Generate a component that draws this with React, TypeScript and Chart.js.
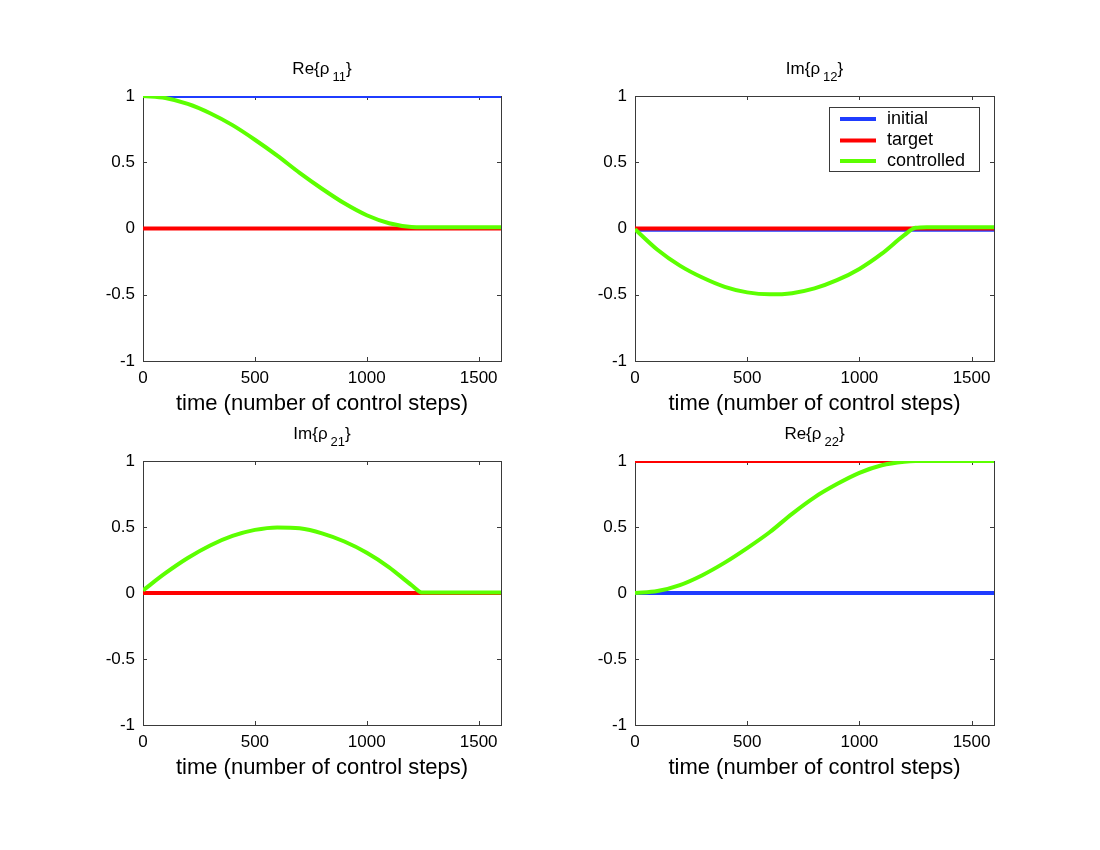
import React, { useEffect, useRef } from 'react';
import { Chart, registerables } from 'chart.js';

Chart.register(...registerables);

// ---------- data ----------
const steps = [0, 100, 200, 300, 400, 500, 600, 700, 800, 900, 1000, 1100, 1200, 1250, 1300, 1400, 1500, 1600];
const lineSteps = [0, 1600];

const re11Initial = [1, 1];
const re11Target = [0, 0];
const re11Controlled = [1.0, 0.985, 0.94, 0.87, 0.78, 0.67, 0.55, 0.42, 0.3, 0.19, 0.1, 0.04, 0.012, 0.01, 0.01, 0.01, 0.01, 0.01];

const im12Initial = [-0.01, -0.01];
const im12Target = [0, 0];
const im12Controlled = [-0.005, -0.16, -0.28, -0.37, -0.44, -0.482, -0.497, -0.488, -0.452, -0.39, -0.305, -0.19, -0.05, 0.005, 0.01, 0.01, 0.01, 0.01];

const im21Initial = [0, 0];
const im21Target = [0, 0];
const im21Controlled = [0.02, 0.15, 0.265, 0.36, 0.432, 0.478, 0.497, 0.49, 0.452, 0.39, 0.305, 0.195, 0.06, 0.003, 0.004, 0.004, 0.004, 0.004];

const re22Initial = [0, 0];
const re22Target = [1, 1];
const re22Controlled = [0.0, 0.015, 0.06, 0.135, 0.23, 0.34, 0.46, 0.6, 0.725, 0.825, 0.91, 0.968, 0.995, 1.0, 1.0, 1.0, 1.0, 1.0];

const xTickValues = [0, 500, 1000, 1500];
const xTickLabels = ['0', '500', '1000', '1500'];
const yTickValues = [-1, -0.5, 0, 0.5, 1];
const yTickLabels = ['-1', '-0.5', '0', '0.5', '1'];
const seriesNames = ['initial', 'target', 'controlled'];
const xAxisLabel = 'time (number of control steps)';

// ---------- styles ----------
const FONT = '"Liberation Sans", Arial, Helvetica, sans-serif';
const COLORS = ['#1f3cff', '#ff0000', '#5cff00'];
const AXIS_COLOR = '#3a3a3a';

type Panel = {
  left: number;
  top: number;
  titleMain: string;
  titleSub: string;
  initial: number[];
  target: number[];
  controlled: number[];
  legend: boolean;
  padding: { left: number; right: number; top: number; bottom: number };
};

const panels: Panel[] = [
  { left: 0, top: 0, titleMain: 'Re{ρ', titleSub: '11', initial: re11Initial, target: re11Target, controlled: re11Controlled, legend: false, padding: { left: 83, right: 49, top: 96, bottom: 4 } },
  { left: 550, top: 0, titleMain: 'Im{ρ', titleSub: '12', initial: im12Initial, target: im12Target, controlled: im12Controlled, legend: true, padding: { left: 25, right: 106, top: 96, bottom: 4 } },
  { left: 0, top: 425, titleMain: 'Im{ρ', titleSub: '21', initial: im21Initial, target: im21Target, controlled: im21Controlled, legend: false, padding: { left: 83, right: 49, top: 36, bottom: 65 } },
  { left: 550, top: 425, titleMain: 'Re{ρ', titleSub: '22', initial: re22Initial, target: re22Target, controlled: re22Controlled, legend: false, padding: { left: 25, right: 106, top: 36, bottom: 65 } },
];

const framePlugin = {
  id: 'frame',
  beforeDatasetsDraw(chart: any) {
    const { ctx, chartArea: a, scales } = chart;
    const x = scales.x;
    const y = scales.y;
    ctx.save();
    ctx.strokeStyle = AXIS_COLOR;
    ctx.lineWidth = 1;
    ctx.strokeRect(a.left + 0.5, a.top + 0.5, a.right - a.left, a.bottom - a.top);
    const tl = 4;
    ctx.beginPath();
    for (const v of xTickValues) {
      const px = Math.round(x.getPixelForValue(v)) + 0.5;
      ctx.moveTo(px, a.bottom);
      ctx.lineTo(px, a.bottom - tl);
      ctx.moveTo(px, a.top);
      ctx.lineTo(px, a.top + tl);
    }
    for (const v of yTickValues) {
      const py = Math.round(y.getPixelForValue(v)) + 0.5;
      ctx.moveTo(a.left, py);
      ctx.lineTo(a.left + tl, py);
      ctx.moveTo(a.right, py);
      ctx.lineTo(a.right - tl, py);
    }
    ctx.stroke();
    ctx.restore();
  },
};

const titlePlugin = {
  id: 'subTitle',
  afterDraw(chart: any, _args: any, opts: any) {
    const { ctx, chartArea: a } = chart;
    const main: string = opts.main;
    const sub: string = opts.sub;
    const close = '}';
    ctx.save();
    ctx.fillStyle = '#000';
    ctx.textBaseline = 'alphabetic';
    ctx.textAlign = 'left';
    const mainFont = `17px ${FONT}`;
    const subFont = `13px ${FONT}`;
    ctx.font = mainFont;
    const wMain = ctx.measureText(main).width;
    const wClose = ctx.measureText(close).width;
    ctx.font = subFont;
    const wSub = ctx.measureText(sub).width;
    const gap = 3;
    const total = wMain + gap + wSub + wClose;
    const cx = (a.left + a.right) / 2;
    const base = a.top - 22;
    let x0 = cx - total / 2;
    ctx.font = mainFont;
    ctx.fillText(main, x0, base);
    x0 += wMain + gap;
    ctx.font = subFont;
    ctx.fillText(sub, x0, base + 7);
    x0 += wSub;
    ctx.font = mainFont;
    ctx.fillText(close, x0, base);
    ctx.restore();
  },
};

const legendPlugin = {
  id: 'boxLegend',
  afterDraw(chart: any, _args: any, opts: any) {
    if (!opts.show) return;
    const { ctx, chartArea: a } = chart;
    const bx = a.right - 165;
    const by = a.top + 11;
    const bw = 150;
    const bh = 64;
    ctx.save();
    ctx.fillStyle = '#fff';
    ctx.fillRect(bx, by, bw, bh);
    ctx.strokeStyle = AXIS_COLOR;
    ctx.lineWidth = 1;
    ctx.strokeRect(bx + 0.5, by + 0.5, bw, bh);
    const rows = [12, 33.5, 54];
    ctx.font = `18px ${FONT}`;
    ctx.textBaseline = 'middle';
    ctx.textAlign = 'left';
    seriesNames.forEach((name, i) => {
      const ry = by + rows[i];
      ctx.strokeStyle = COLORS[i];
      ctx.lineWidth = 4;
      ctx.beginPath();
      ctx.moveTo(bx + 11, ry);
      ctx.lineTo(bx + 47, ry);
      ctx.stroke();
      ctx.fillStyle = '#000';
      ctx.fillText(name, bx + 58, ry);
    });
    ctx.restore();
  },
};

function toXY(xs: number[], ys: number[]) {
  return xs.map((x, i) => ({ x, y: ys[i] }));
}

function SubPlot({ panel }: { panel: Panel }) {
  const ref = useRef<HTMLCanvasElement | null>(null);
  useEffect(() => {
    if (!ref.current) return;
    const chart = new Chart(ref.current, {
      type: 'line',
      data: {
        datasets: [
          {
            label: seriesNames[0],
            data: toXY(lineSteps, panel.initial),
            borderColor: COLORS[0],
            borderWidth: 4,
            pointRadius: 0,
            order: 3,
            clip: 0,
          },
          {
            label: seriesNames[1],
            data: toXY(lineSteps, panel.target),
            borderColor: COLORS[1],
            borderWidth: 4,
            pointRadius: 0,
            order: 2,
            clip: 0,
          },
          {
            label: seriesNames[2],
            data: toXY(steps, panel.controlled),
            borderColor: COLORS[2],
            borderWidth: 4,
            pointRadius: 0,
            cubicInterpolationMode: 'monotone',
            order: 1,
            clip: 0,
          },
        ] as any,
      },
      options: {
        animation: false,
        responsive: false,
        devicePixelRatio: 1,
        layout: { padding: panel.padding },
        plugins: {
          legend: { display: false },
          tooltip: { enabled: false },
          subTitle: { main: panel.titleMain, sub: panel.titleSub },
          boxLegend: { show: panel.legend },
        } as any,
        scales: {
          x: {
            type: 'linear',
            min: 0,
            max: 1600,
            grid: { display: false, drawTicks: false },
            border: { display: false },
            afterBuildTicks: (s: any) => {
              s.ticks = xTickValues.map((v) => ({ value: v }));
            },
            afterFit: (s: any) => {
              s.height = 60;
            },
            ticks: {
              autoSkip: false,
              maxRotation: 0,
              padding: 7,
              color: '#000',
              font: { family: FONT, size: 17 },
              callback: (v: any) => xTickLabels[xTickValues.indexOf(Number(v))] ?? '',
            },
            title: {
              display: true,
              text: xAxisLabel,
              color: '#000',
              font: { family: FONT, size: 22 },
              padding: { top: 0, bottom: 4 },
            },
          },
          y: {
            type: 'linear',
            min: -1,
            max: 1,
            grid: { display: false, drawTicks: false },
            border: { display: false },
            afterBuildTicks: (s: any) => {
              s.ticks = yTickValues.map((v) => ({ value: v }));
            },
            afterFit: (s: any) => {
              s.width = 60;
            },
            ticks: {
              autoSkip: false,
              padding: 8,
              color: '#000',
              font: { family: FONT, size: 17 },
              callback: (v: any) => yTickLabels[yTickValues.indexOf(Number(v))] ?? '',
            },
          },
        },
      } as any,
      plugins: [framePlugin, titlePlugin, legendPlugin],
    });
    return () => chart.destroy();
  }, [panel]);

  return (
    <canvas
      ref={ref}
      width={550}
      height={425}
      style={{ position: 'absolute', left: panel.left, top: panel.top, width: 550, height: 425 }}
    />
  );
}

export default function App() {
  return (
    <div style={{ position: 'absolute', left: 0, top: 0, width: 1100, height: 850, background: '#fff' }}>
      {panels.map((p, i) => (
        <SubPlot key={i} panel={p} />
      ))}
    </div>
  );
}
